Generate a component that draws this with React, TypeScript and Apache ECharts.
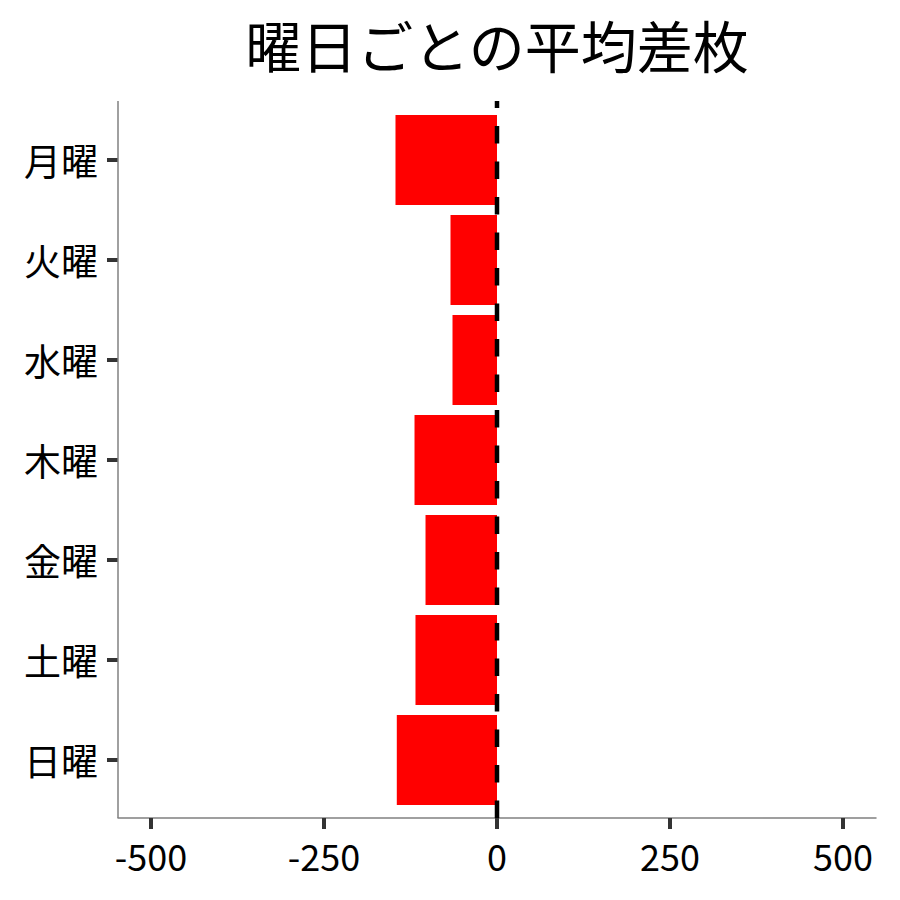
import React, { useEffect, useRef } from 'react';
import * as echarts from 'echarts';

const chartTitle = '曜日ごとの平均差枚';
const days = ['月曜', '火曜', '水曜', '木曜', '金曜', '土曜', '日曜'];
const meanDiff = [-146.7, -67.2, -64.3, -119.2, -103.3, -117.8, -144.8];
const xTicks = [-500, -250, 0, 250, 500];
const xMin = -547.7;
const xMax = 547.7;
const refLineValue = 0;

const FONT = '"Noto Sans CJK JP", "Noto Sans CJK SC", sans-serif';

export default function App() {
  const ref = useRef<HTMLDivElement>(null);
  useEffect(() => {
    const chart = echarts.init(ref.current!, null, { renderer: 'svg' });
    const left = 118;
    const right = 24;
    const top = 110;
    const bottom = 90;
    const panelTop = 101;
    const panelBottom = 818;
    chart.setOption({
      animation: false,
      textStyle: { fontFamily: FONT },
      grid: { left, right, top, bottom, containLabel: false },
      xAxis: {
        type: 'value',
        min: xMin,
        max: xMax,
        offset: panelBottom - (900 - bottom),
        axisLine: { show: true, onZero: false, lineStyle: { color: '#808080', width: 1.5 } },
        axisTick: { show: true, customValues: xTicks, length: 11, lineStyle: { color: '#333333', width: 4 } },
        axisLabel: { customValues: xTicks, fontSize: 36, color: '#000', margin: 19, fontFamily: FONT },
        splitLine: { show: false },
      },
      yAxis: {
        type: 'category',
        inverse: true,
        data: days,
        axisLine: { show: false, onZero: false },
        axisTick: { show: true, alignWithLabel: true, length: 11, lineStyle: { color: '#333333', width: 4 } },
        axisLabel: { fontSize: 37, color: '#000', margin: 20, fontFamily: FONT },
        splitLine: { show: false },
      },
      series: [
        {
          type: 'bar',
          data: meanDiff,
          barCategoryGap: '10%',
          itemStyle: { color: '#ff0000' },
        },
      ],
    });
    const x0 = chart.convertToPixel({ xAxisIndex: 0 }, refLineValue) as number;
    chart.setOption({
      graphic: [
        {
          type: 'text',
          x: (left + (900 - right)) / 2,
          y: 43,
          style: {
            text: chartTitle,
            fontSize: 56,
            fontFamily: FONT,
            fill: '#000',
            align: 'center',
            verticalAlign: 'middle',
          },
        },
        {
          type: 'line',
          shape: { x1: left, y1: panelTop, x2: left, y2: panelBottom },
          style: { stroke: '#808080', lineWidth: 1.5 },
          z: 50,
        },
        {
          type: 'line',
          shape: { x1: x0, y1: panelBottom, x2: x0, y2: panelTop },
          style: { stroke: '#000', lineWidth: 4.5, lineDash: [17.5, 18] },
          z: 100,
        },
      ],
    });
    return () => chart.dispose();
  }, []);
  return <div ref={ref} style={{ position: 'absolute', left: 0, top: 0, width: 900, height: 900 }} />;
}
